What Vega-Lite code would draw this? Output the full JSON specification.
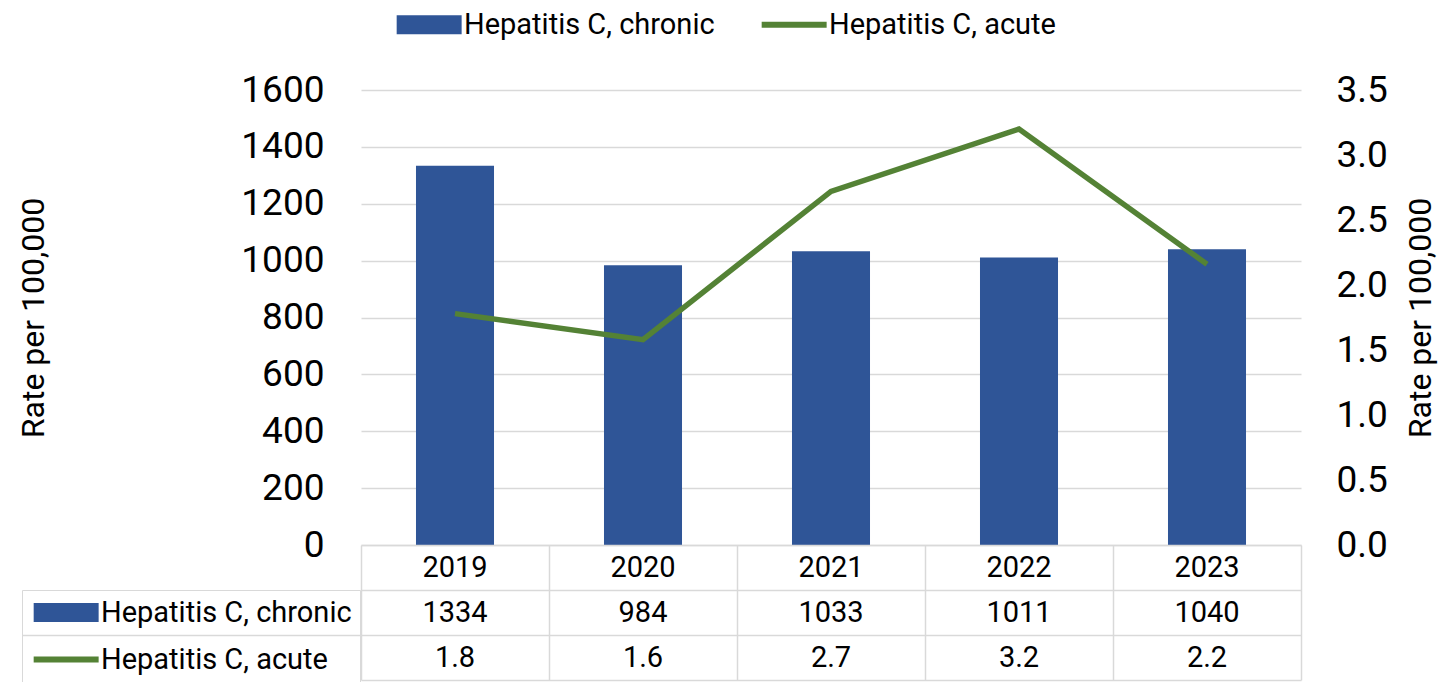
{
  "$schema": "https://vega.github.io/schema/vega-lite/v6.json",
  "background": "white",
  "padding": {"left": 17, "top": 10, "right": 5, "bottom": 0},
  "config": {"font": "Roboto", "view": {"stroke": null}},
  "datasets": {
    "rates": [
      {"year": "2019", "chronic": 1334, "acute": 1.78},
      {"year": "2020", "chronic": 984, "acute": 1.58},
      {"year": "2021", "chronic": 1033, "acute": 2.72},
      {"year": "2022", "chronic": 1011, "acute": 3.2},
      {"year": "2023", "chronic": 1040, "acute": 2.16}
    ]
  },
  "data": {"name": "rates"},
  "bounds": "flush",
  "spacing": 0,
  "resolve": {"scale": {"color": "independent"}, "legend": {"color": "independent"}},
  "vconcat": [
    {
      "width": 940,
      "height": 455,
      "layer": [
        {
          "mark": {"type": "bar"},
          "encoding": {
            "x": {"field": "year", "type": "ordinal", "axis": null, "scale": {"paddingInner": 0.585, "paddingOuter": 0.2925}},
            "y": {
              "field": "chronic", "type": "quantitative",
              "scale": {"domain": [0, 1600]},
              "axis": {
                "orient": "left", "values": [0, 200, 400, 600, 800, 1000, 1200, 1400, 1600], "format": "d",
                "title": "Rate per 100,000", "titleFontSize": 32, "titleFontWeight": "normal", "titleColor": "black",
                "titlePadding": 190, "labelFontSize": 37, "labelColor": "black", "labelPadding": 37,
                "ticks": false, "tickSize": 0, "domain": false, "grid": true, "gridColor": "#D9D9D9", "gridWidth": 1.5
              }
            },
            "color": {
              "datum": "Hepatitis C, chronic", "type": "nominal",
              "scale": {"domain": ["Hepatitis C, chronic", "Hepatitis C, acute"], "range": ["#2F5597", "#548235"]},
              "legend": {
                "orient": "none", "legendX": 32, "legendY": -80, "direction": "horizontal", "title": null,
                "labelFontSize": 29, "labelColor": "black", "labelLimit": 500, "symbolSize": 469,
                "labelOffset": 42, "columnPadding": 34, "padding": 0,
                "encode": {
                  "symbols": {
                    "update": {
                      "shape": {"signal": "datum.value === 'Hepatitis C, chronic' ? 'M-1,-0.875H5V0.875H-1Z' : 'M-1,0H5'"},
                      "fill": {"signal": "datum.value === 'Hepatitis C, chronic' ? '#2F5597' : 'transparent'"},
                      "stroke": {"signal": "datum.value === 'Hepatitis C, chronic' ? 'transparent' : '#548235'"},
                      "strokeWidth": {"signal": "datum.value === 'Hepatitis C, chronic' ? 0 : 6"},
                      "opacity": {"value": 1}
                    }
                  }
                }
              }
            }
          }
        },
        {
          "mark": {"type": "line", "strokeWidth": 5.5},
          "encoding": {
            "x": {"field": "year", "type": "ordinal", "axis": null},
            "y": {
              "field": "acute", "type": "quantitative",
              "scale": {"domain": [0, 3.5]},
              "axis": {
                "orient": "right", "values": [0, 0.5, 1, 1.5, 2, 2.5, 3, 3.5], "format": ".1f",
                "title": "Rate per 100,000", "titleAngle": 270, "titleBaseline": "top", "titleFontSize": 32, "titleFontWeight": "normal", "titleColor": "black",
                "titlePadding": 18, "labelFontSize": 37, "labelColor": "black", "labelPadding": 35,
                "ticks": false, "tickSize": 0, "domain": false, "grid": false
              }
            },
            "color": {"datum": "Hepatitis C, acute", "type": "nominal"}
          }
        }
      ],
      "resolve": {"scale": {"y": "independent"}}
    },
    {
      "width": 940,
      "height": 135,
      "layer": [
        {
          "mark": {"type": "text", "fontSize": 29, "color": "black"},
          "encoding": {
            "x": {
              "field": "year", "type": "ordinal", "scale": {"paddingInner": 0, "paddingOuter": 0},
              "axis": {"orient": "bottom", "labels": false, "ticks": false, "domain": false, "title": null,
                       "grid": true, "gridColor": "#D9D9D9", "gridWidth": 1.5, "tickBand": "extent"}
            },
            "y": {
              "datum": "year", "type": "ordinal",
              "scale": {"domain": ["year", "chronic", "acute"], "paddingInner": 0, "paddingOuter": 0},
              "axis": {"orient": "left", "labels": false, "domain": false, "title": null,
                       "grid": true, "gridColor": "#D9D9D9", "gridWidth": 1.5, "tickBand": "extent",
                       "ticks": true, "tickSize": 339, "tickWidth": 1.5,
                       "tickColor": {"condition": {"test": "datum.value === 'chronic'", "value": "#D9D9D9"}, "value": "transparent"}}
            },
            "text": {"field": "year", "type": "nominal"}
          }
        },
        {
          "mark": {"type": "text", "fontSize": 29, "color": "black"},
          "encoding": {
            "x": {"field": "year", "type": "ordinal"},
            "y": {"datum": "chronic", "type": "ordinal"},
            "text": {"field": "chronic", "type": "quantitative", "format": "d"}
          }
        },
        {
          "mark": {"type": "text", "fontSize": 29, "color": "black"},
          "encoding": {
            "x": {"field": "year", "type": "ordinal"},
            "y": {"datum": "acute", "type": "ordinal"},
            "text": {"field": "acute", "type": "quantitative", "format": ".1f"}
          }
        },
        {
          "mark": {"type": "bar", "opacity": 0},
          "encoding": {
            "x": {"field": "year", "type": "ordinal"},
            "y": {"datum": "chronic", "type": "ordinal"},
            "color": {
              "datum": "Hepatitis C, chronic", "type": "nominal",
              "scale": {"domain": ["Hepatitis C, chronic", "Hepatitis C, acute"], "range": ["#2F5597", "#548235"]},
              "legend": {
                "orient": "none", "legendX": -339, "legendY": 45, "direction": "vertical", "title": null,
                "labelFontSize": 29, "labelColor": "black", "labelLimit": 500, "symbolSize": 469,
                "labelOffset": 42, "rowPadding": 17, "padding": 8, "strokeColor": "#D9D9D9",
                "symbolOpacity": 1,
                "encode": {
                  "symbols": {
                    "update": {
                      "shape": {"signal": "datum.value === 'Hepatitis C, chronic' ? 'M-1,-0.875H5V0.875H-1Z' : 'M-1,0H5'"},
                      "fill": {"signal": "datum.value === 'Hepatitis C, chronic' ? '#2F5597' : 'transparent'"},
                      "stroke": {"signal": "datum.value === 'Hepatitis C, chronic' ? 'transparent' : '#548235'"},
                      "strokeWidth": {"signal": "datum.value === 'Hepatitis C, chronic' ? 0 : 6"},
                      "opacity": {"value": 1}
                    }
                  }
                }
              }
            }
          }
        },
        {
          "mark": {"type": "bar", "opacity": 0},
          "encoding": {
            "x": {"field": "year", "type": "ordinal"},
            "y": {"datum": "acute", "type": "ordinal"},
            "color": {
              "datum": "Hepatitis C, acute", "type": "nominal",
              "legend": {
                "orient": "none", "legendX": -339, "legendY": 45, "direction": "vertical", "title": null,
                "labelFontSize": 29, "labelColor": "black", "labelLimit": 500, "symbolSize": 469,
                "labelOffset": 42, "rowPadding": 17, "padding": 8, "strokeColor": "#D9D9D9",
                "symbolOpacity": 1,
                "encode": {
                  "symbols": {
                    "update": {
                      "shape": {"signal": "datum.value === 'Hepatitis C, chronic' ? 'M-1,-0.875H5V0.875H-1Z' : 'M-1,0H5'"},
                      "fill": {"signal": "datum.value === 'Hepatitis C, chronic' ? '#2F5597' : 'transparent'"},
                      "stroke": {"signal": "datum.value === 'Hepatitis C, chronic' ? 'transparent' : '#548235'"},
                      "strokeWidth": {"signal": "datum.value === 'Hepatitis C, chronic' ? 0 : 6"},
                      "opacity": {"value": 1}
                    }
                  }
                }
              }
            }
          }
        }
      ]
    }
  ]
}
